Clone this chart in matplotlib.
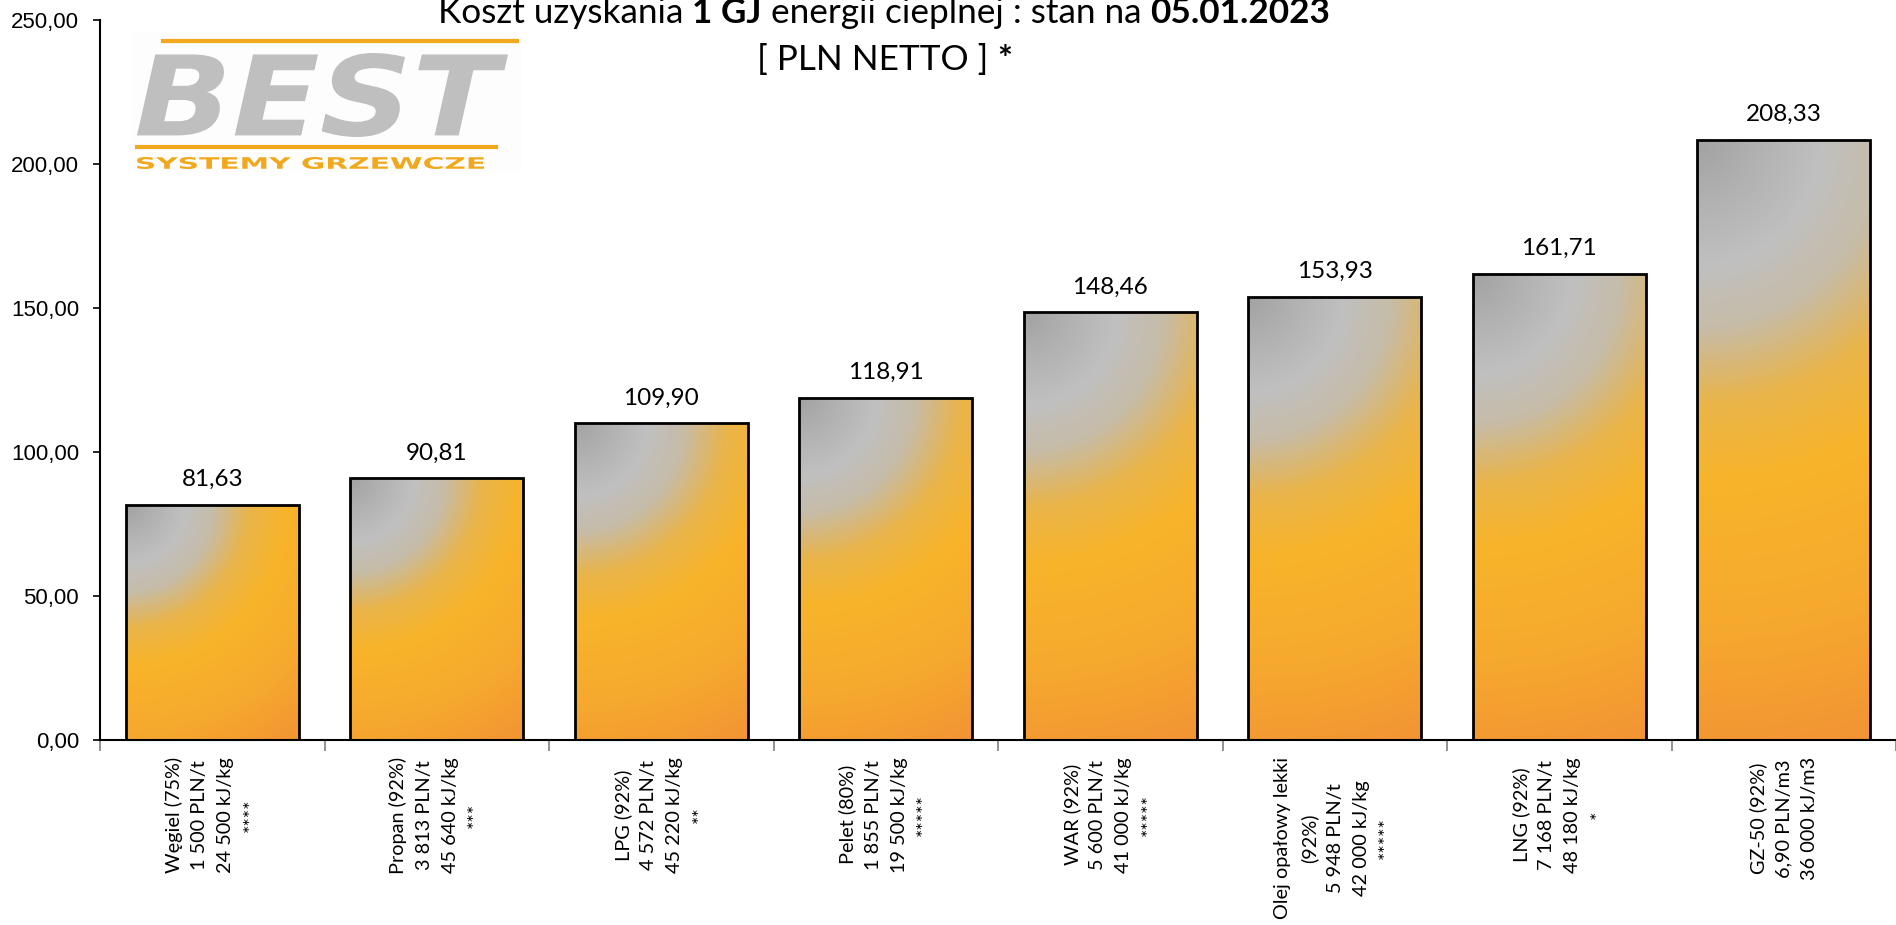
import numpy as np
import matplotlib
matplotlib.use('Agg')
import matplotlib.pyplot as plt
from matplotlib.colors import LinearSegmentedColormap
from matplotlib.patches import PathPatch, Rectangle
from matplotlib.textpath import TextPath
from matplotlib.font_manager import FontProperties
from matplotlib.transforms import Affine2D

categories = [
    "Węgiel (75%)\n1 500 PLN/t\n24 500 kJ/kg\n****",
    "Propan (92%)\n3 813 PLN/t\n45 640 kJ/kg\n***",
    "LPG (92%)\n4 572 PLN/t\n45 220 kJ/kg\n**",
    "Pelet (80%)\n1 855 PLN/t\n19 500 kJ/kg\n*****",
    "WAR (92%)\n5 600 PLN/t\n41 000 kJ/kg\n*****",
    "Olej opałowy lekki\n(92%)\n5 948 PLN/t\n42 000 kJ/kg\n*****",
    "LNG (92%)\n7 168 PLN/t\n48 180 kJ/kg\n*",
    "GZ-50 (92%)\n6,90 PLN/m3\n36 000 kJ/m3",
]
values = [81.63, 90.81, 109.90, 118.91, 148.46, 153.93, 161.71, 208.33]
value_labels = ["81,63", "90,81", "109,90", "118,91", "148,46", "153,93", "161,71", "208,33"]
yticks = [0, 50, 100, 150, 200, 250]
ytick_labels = ["0,00", "50,00", "100,00", "150,00", "200,00", "250,00"]
title_parts = [("Koszt uzyskania ", "normal"), ("1 GJ", "bold"),
               (" energii cieplnej : stan na ", "normal"), ("05.01.2023", "bold")]
subtitle_parts = [("[ PLN NETTO ] ", "normal"), ("*", "bold")]

W, H = 1896, 925
fig = plt.figure(figsize=(W / 100, H / 100), dpi=100)
ax = fig.add_axes([100 / W, 185 / H, 1796 / W, 720 / H])
renderer = fig.canvas.get_renderer()

cmap = LinearSegmentedColormap.from_list("grad", [
    (0.0, "#a2a2a2"),
    (0.10, "#b2b2b2"),
    (0.20, "#c0c0c0"),
    (0.30, "#c6bca8"),
    (0.42, "#e9b44a"),
    (0.55, "#f8b42a"),
    (0.78, "#f6a92e"),
    (1.0, "#f29434"),
])

n = len(values)
x = np.arange(n) + 0.5
bw = 0.77
ax.set_xlim(0, n)
ax.set_ylim(0, 250)
bars = ax.bar(x, values, width=bw, facecolor="none", edgecolor="black",
              linewidth=2, zorder=3)

pxx = 1796 / n      # pixels per x unit
pxy = 720 / 250     # pixels per y unit
for b in bars:
    x0, y0 = b.get_x(), b.get_y()
    w, h = b.get_width(), b.get_height()
    wp, hp = w * pxx, h * pxy
    nx, ny = int(wp), int(hp)
    uu, vv = np.meshgrid(np.linspace(0, wp, nx), np.linspace(0, hp, ny))
    rr = np.sqrt(uu ** 2 + vv ** 2) / np.sqrt(wp ** 2 + hp ** 2)
    im = ax.imshow(rr, cmap=cmap, vmin=0, vmax=1, origin="upper",
                   extent=(x0, x0 + w, y0, y0 + h), aspect="auto",
                   interpolation="bilinear", zorder=2)
    im.set_clip_path(b)


def text_width(s, size, family="Lato", weight="normal"):
    t = fig.text(0, 0, s, fontsize=size, family=family, weight=weight)
    wdt = t.get_window_extent(renderer).width
    t.remove()
    return wdt


# value labels: "81,63" is ~62 px wide in the reference
vsize = 17 * 62 / text_width("81,63", 17)
for xi, v, lab in zip(x, values, value_labels):
    ax.annotate(lab, (xi, v), xytext=(0, 19), textcoords="offset pixels",
                ha="center", va="baseline", fontsize=vsize, family="Lato")

ax.set_xlim(0, n)
ax.set_ylim(0, 250)
ax.set_yticks(yticks)
ax.set_yticklabels(ytick_labels, family="Liberation Sans", fontsize=16)
ax.set_xticks(np.arange(n + 1))
ax.set_xticklabels([])
ax.tick_params(axis="y", length=5, width=1.2, pad=10, direction="out")
ax.tick_params(axis="x", length=8, width=1.2, direction="out", color="#7f7f7f")
for s in ["top", "right"]:
    ax.spines[s].set_visible(False)
ax.spines["left"].set_linewidth(1.5)
ax.spines["bottom"].set_linewidth(1.5)
ax.spines["left"].set_zorder(5)

# category labels: longest line ~164 px, 4-line block ~95 px thick
lsize = 14 * 163 / text_width("Olej opałowy lekki", 14)


def block_thickness(ls):
    t = fig.text(0, 0, categories[0], fontsize=lsize, family="Lato",
                 linespacing=ls, rotation=90, multialignment="center")
    wdt = t.get_window_extent(renderer).width
    t.remove()
    return wdt


b1, b2 = block_thickness(1.0), block_thickness(2.0)
lspace = 1.0 + (95 - b1) / (b2 - b1)
lspace = min(max(lspace, 1.0), 2.5)

for xi, lab in zip(x, categories):
    ax.annotate(lab, (xi, 0), xytext=(0, -17), textcoords="offset pixels",
                rotation=90, ha="center", va="top", multialignment="center",
                fontsize=lsize, family="Lato", linespacing=lspace)


# Title, composed of normal and bold pieces
def compose(parts, cx, ybase, size):
    texts = []
    for s, wt in parts:
        t = fig.text(0, 1 - ybase / H, s, ha="left", va="baseline",
                     fontsize=size, family="Lato", weight=wt)
        texts.append(t)
    widths = [t.get_window_extent(renderer).width for t in texts]
    total = sum(widths)
    xs = cx - total / 2
    for t, wdt in zip(texts, widths):
        t.set_x(xs / W)
        xs += wdt
    return total


tw = sum(text_width(s, 24, weight=wt) for s, wt in title_parts)
tsize = 24 * 892 / tw
compose(title_parts, 884, 23, tsize)
compose(subtitle_parts, 885, 70, tsize)

# Logo
orange = "#f2a81c"
fig.patches.append(Rectangle((132 / W, 1 - 172 / H), 390 / W, 140 / H,
                             transform=fig.transFigure, facecolor="#fdfdfd",
                             edgecolor="none", zorder=1))


def fit_text(s, box, color, weight="bold", style="normal", family="DejaVu Sans"):
    fp = FontProperties(family=family, weight=weight, style=style)
    tp = TextPath((0, 0), s, prop=fp, size=100)
    bb = tp.get_extents()
    xa, ya, xb, yb = box  # pixel coords, y from top
    sx = (xb - xa) / bb.width
    sy = (yb - ya) / bb.height
    tr = Affine2D().translate(-bb.x0, -bb.y0).scale(sx, sy).translate(xa, H - yb)
    patch = PathPatch(tr.transform_path(tp), facecolor=color, edgecolor="none",
                      transform=None, zorder=6)
    fig.patches.append(patch)


fig.add_artist(plt.Line2D([163 / W, 517 / W], [1 - 41 / H, 1 - 41 / H],
                          color=orange, lw=3, transform=fig.transFigure))
fig.add_artist(plt.Line2D([137 / W, 496 / W], [1 - 147 / H, 1 - 147 / H],
                          color=orange, lw=3, transform=fig.transFigure))
fit_text("BEST", (137, 53, 508, 137), "#bfbfbf", weight="bold", style="italic")
fit_text("SYSTEMY GRZEWCZE", (137, 157, 484, 169), orange, weight="bold")

fig.savefig("out.png", dpi=100)
